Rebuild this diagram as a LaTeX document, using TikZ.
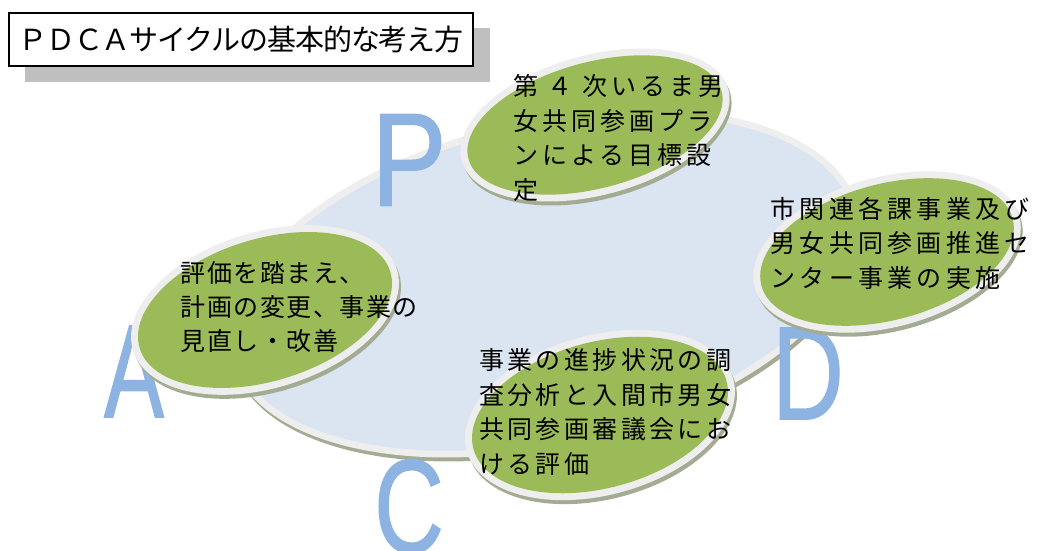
\documentclass[tikz,border=0pt]{standalone}
\usepackage{graphicx}
\usepackage{fontspec}
\setmainfont{Liberation Sans}
\newfontfamily\jp{Noto Sans CJK JP}
\newfontfamily\latinL[FakeBold=1.2]{Liberation Sans}
\definecolor{ovalgreen}{HTML}{9BBB59}
\definecolor{bigblue}{HTML}{DBE5F1}
\definecolor{ringgray}{HTML}{EEEEEE}
\definecolor{shadowgreen}{HTML}{A3AC92}
\definecolor{letterblue}{HTML}{8DB3E2}
\definecolor{titleshadow}{HTML}{BFBFBF}
% cx, cy, angle, outer a, outer b
\newcommand\ovalshape[5]{%
  \fill[shadowgreen, shift={(#1+2,#2+4)}, rotate=#3] (0,0) ellipse [x radius=#4pt, y radius=#5pt];
  \fill[ringgray, shift={(#1,#2)}, rotate=#3] (0,0) ellipse [x radius=#4pt, y radius=#5pt];
  \fill[ovalgreen, shift={(#1,#2)}, rotate=#3] (0,0) ellipse [x radius=#4pt-7pt, y radius=#5pt-7pt];
}
\tikzset{
  bigletter/.style={inner sep=0pt, text=letterblue, font=\latinL\fontsize{134}{134}\selectfont},
  ovaltext/.style={inner sep=0pt, anchor=west, align=left, text=black},
}
\begin{document}
\begin{tikzpicture}[x=1pt,y=-1pt]
\useasboundingbox (0,0) rectangle (1038,551);
% title
\fill[titleshadow] (25,28) rectangle (490,82);
\node[draw=black, line width=1.4pt, fill=white, minimum width=464pt, minimum height=53pt, inner sep=0pt,
      font=\jp\fontsize{29}{29}\selectfont\addfontfeature{LetterSpace=-4}] (title) at (241,39.5)
      {ＰＤＣＡサイクルの基本的な考え方};
% big cycle ellipse
\fill[shadowgreen, shift={(546.4,287)}, rotate=13.1] (0,0) ellipse [x radius=322.5pt, y radius=162.6pt];
\fill[ringgray, shift={(544.4,283)}, rotate=13.1] (0,0) ellipse [x radius=322.5pt, y radius=162.6pt];
\fill[bigblue, shift={(544.4,283)}, rotate=13.1] (0,0) ellipse [x radius=315.5pt, y radius=155.6pt];
% letters
\node[bigletter] (lp) at (409,160) {\scalebox{0.84}[0.99]{P}};
\node[bigletter] (ld) at (808,373.5) {\scalebox{0.74}[0.99]{D}};
\node[bigletter] (la) at (134,371.5) {\scalebox{0.67}[0.99]{A}};
\node[bigletter] (lc) at (409,506.5) {\scalebox{0.72}[0.99]{C}};
% ovals
\ovalshape{595}{125}{15}{138}{70}
\ovalshape{887}{252}{15}{137}{75}
\ovalshape{265}{310}{17}{138}{78}
\ovalshape{600}{415}{15}{138}{80}
% texts
\node[ovaltext, font=\jp\fontsize{25}{34.5}\selectfont\addfontfeature{LetterSpace=16}] (tp) at (513,138)
  {第 ４ 次いるま男\\女共同参画プラ\\ンによる目標設\\定};
\node[ovaltext, font=\jp\fontsize{25}{34.5}\selectfont\addfontfeature{LetterSpace=17}] (td) at (770.5,243)
  {市関連各課事業及び\\男女共同参画推進セ\\ンター事業の実施};
\node[ovaltext, font=\jp\fontsize{25}{34}\selectfont\addfontfeature{LetterSpace=6}] (ta) at (180.5,307)
  {評価を踏まえ、\\計画の変更、事業の\\見直し・改善};
\node[ovaltext, font=\jp\fontsize{25}{34.5}\selectfont\addfontfeature{LetterSpace=13.5}] (tc) at (479,412)
  {事業の進捗状況の調\\査分析と入間市男女\\共同参画審議会にお\\ける評価};
\end{tikzpicture}
\end{document}
